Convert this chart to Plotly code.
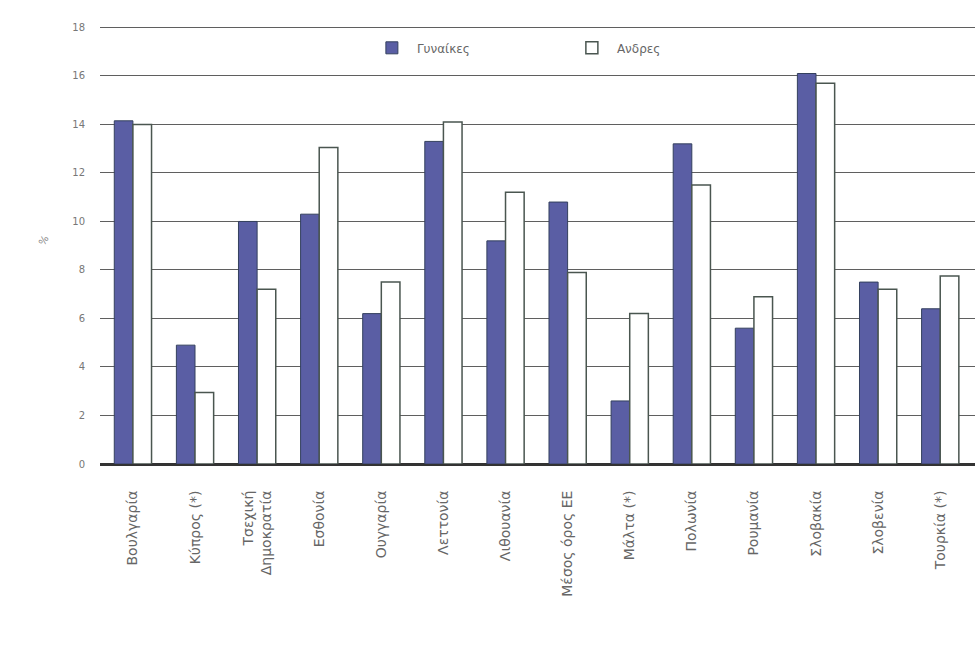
import plotly.graph_objects as go

categories = ["Βουλγαρία", "Κύπρος (*)", "Τσεχική<br>Δημοκρατία", "Εσθονία", "Ουγγαρία",
              "Λεττονία", "Λιθουανία", "Μέσος όρος ΕΕ", "Μάλτα (*)", "Πολωνία",
              "Ρουμανία", "Σλοβακία", "Σλοβενία", "Τουρκία (*)"]
women = [14.15, 4.9, 10.0, 10.3, 6.2, 13.3, 9.2, 10.8, 2.6, 13.2, 5.6, 16.1, 7.5, 6.4]
men = [14.0, 2.95, 7.2, 13.05, 7.5, 14.1, 11.2, 7.9, 6.2, 11.5, 6.9, 15.7, 7.2, 7.75]
yticks = [0, 2, 4, 6, 8, 10, 12, 14, 16, 18]

fig = go.Figure()
fig.add_trace(go.Bar(x=categories, y=women, name="Γυναίκες",
                     marker=dict(color="#5a5ea4", line=dict(color="#34405e", width=1))))
fig.add_trace(go.Bar(x=categories, y=men, name="Ανδρες",
                     marker=dict(color="#ffffff", line=dict(color="#4a5650", width=1.5))))

fig.update_layout(
    width=975, height=666,
    margin=dict(l=100, r=0, t=25, b=202),
    paper_bgcolor="white", plot_bgcolor="white",
    barmode="group", bargap=0.4, bargroupgap=0.0,
    font=dict(family="DejaVu Sans", color="#666666"),
    legend=dict(orientation="h", x=0.305, y=0.948, xanchor="left", yanchor="middle",
                bgcolor="rgba(255,255,255,0)", font=dict(size=12, color="#666666"),
                itemwidth=40, entrywidth=145, entrywidthmode="pixels"),
    showlegend=True,
)
fig.update_xaxes(range=[-0.53, 13.56], tickangle=-90, tickfont=dict(size=14, color="#666666"),
                 showgrid=False, showline=False, ticks="outside", ticklen=20,
                 tickcolor="rgba(0,0,0,0)")
fig.update_yaxes(range=[0, 18.1], tickvals=yticks, tickfont=dict(size=10, color="#777777"),
                 showgrid=True, gridcolor="#5f5f5f", gridwidth=1,
                 zeroline=True, zerolinecolor="#333333", zerolinewidth=2.5,
                 ticks="outside", ticklen=12, tickcolor="rgba(0,0,0,0)")
fig.add_annotation(text="%", xref="paper", yref="paper", x=-0.075, y=(464 - 240) / 439,
                   showarrow=False, textangle=-60, font=dict(size=10, color="#888888"))

fig.write_html("out.html")
